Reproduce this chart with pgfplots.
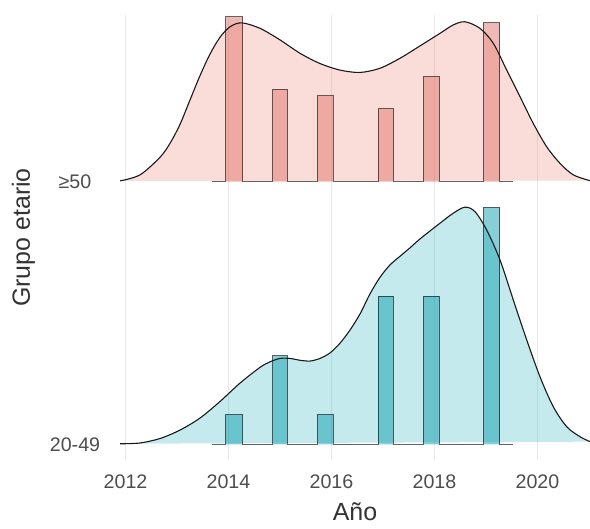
\documentclass[border=0pt]{standalone}
\usepackage{fontspec}
\setmainfont{Liberation Sans}
\usepackage{pgfplots}
\pgfplotsset{compat=1.18}
\usepackage{pgfplotstable}

\definecolor{redc}{RGB}{235,118,100}
\definecolor{redbar}{RGB}{224,118,109}
\definecolor{bluec}{RGB}{20,170,185}
\definecolor{bluebar}{RGB}{16,159,176}
\definecolor{tickgray}{RGB}{77,77,77}
\definecolor{gridgray}{RGB}{232,232,232}

% density of the >=50 group (height above its baseline)
\pgfplotstableread{
x h
2011.893 0.003
2012.282 0.026
2012.670 0.093
2012.864 0.146
2013.058 0.218
2013.252 0.311
2013.447 0.404
2013.641 0.486
2013.835 0.550
2014.029 0.590
2014.256 0.605
2014.612 0.584
2015.000 0.540
2015.388 0.489
2015.777 0.450
2016.165 0.425
2016.553 0.416
2016.942 0.432
2017.330 0.470
2017.718 0.517
2018.107 0.565
2018.365 0.597
2018.592 0.609
2018.883 0.584
2019.142 0.527
2019.402 0.425
2019.660 0.324
2019.918 0.222
2020.179 0.133
2020.437 0.070
2020.695 0.026
2021.020 0.004
}\densOld

% density of the 20-49 group
\pgfplotstableread{
x h
2011.893 0.002
2012.282 0.005
2012.670 0.022
2013.058 0.054
2013.447 0.100
2013.835 0.163
2014.223 0.233
2014.612 0.293
2014.806 0.314
2015.000 0.327
2015.194 0.327
2015.388 0.320
2015.583 0.317
2015.777 0.327
2015.971 0.348
2016.165 0.385
2016.359 0.435
2016.553 0.496
2016.748 0.573
2016.942 0.636
2017.136 0.683
2017.330 0.716
2017.524 0.748
2017.718 0.782
2018.107 0.842
2018.365 0.880
2018.592 0.903
2018.786 0.886
2019.014 0.816
2019.272 0.702
2019.530 0.550
2019.790 0.398
2020.049 0.257
2020.307 0.143
2020.567 0.067
2020.825 0.029
2021.020 0.010
}\densYoung

% histogram outline of the >=50 group
\pgfplotstableread{
x h
2013.685 0
2013.946 0
2013.946 0.628
2014.276 0.628
2014.276 0
2014.858 0
2014.858 0.352
2015.142 0.352
2015.142 0
2015.724 0
2015.724 0.327
2016.030 0.327
2016.030 0
2016.905 0
2016.905 0.277
2017.204 0.277
2017.204 0
2017.783 0
2017.783 0.400
2018.093 0.400
2018.093 0
2018.947 0
2018.947 0.605
2019.272 0.605
2019.272 0
2019.518 0
}\histOld

% histogram outline of the 20-49 group
\pgfplotstableread{
x h
2013.685 0
2013.946 0
2013.946 0.113
2014.276 0.113
2014.276 0
2014.858 0
2014.858 0.338
2015.142 0.338
2015.142 0
2015.724 0
2015.724 0.113
2016.030 0.113
2016.030 0
2016.905 0
2016.905 0.564
2017.204 0.564
2017.204 0
2017.783 0
2017.783 0.564
2018.093 0.564
2018.093 0
2018.947 0
2018.947 0.902
2019.272 0.902
2019.272 0
2019.518 0
}\histYoung

\begin{document}
\begin{tikzpicture}
\path[use as bounding box] (0,0) rectangle (590bp,529bp);
\begin{axis}[
  at={(120bp,69bp)}, anchor=south west,
  width=470bp, height=445bp, scale only axis,
  xmin=2011.893, xmax=2021.02, ymin=-0.0598, ymax=1.6348,
  axis line style={draw=none}, tick style={draw=none},
  xtick={2012,2014,2016,2018,2020},
  xticklabels={2012,2014,2016,2018,2020},
  ytick={0,1}, yticklabels={20-49,≥50},
  xmajorgrids, grid style={gridgray, line width=0.9bp},
  xticklabel style={anchor=center, yshift=-22bp, font=\fontsize{19.7}{23}\selectfont, text=tickgray},
  yticklabel style={anchor=center, xshift=-45bp, font=\fontsize{19.7}{23}\selectfont, text=tickgray},
  xlabel={Año}, ylabel={Grupo etario},
  xlabel style={at={(axis description cs:0.5,-0.1169)}, anchor=center, font=\fontsize{25}{30}\selectfont, text=black!80},
  ylabel style={at={(axis description cs:-0.2053,0.5)}, anchor=center, font=\fontsize{25}{30}\selectfont, text=black!80},
  no markers,
]
% >=50 group
\addplot[draw=none, fill=redc, fill opacity=0.25, smooth] table[x=x, y expr=\thisrow{h}+1] {\densOld};
\addplot[fill=redbar, fill opacity=0.5, draw=black, draw opacity=0.6, line width=1bp] table[x=x, y expr=\thisrow{h}+1] {\histOld};
\addplot[black!90, line width=1.1bp, smooth] table[x=x, y expr=\thisrow{h}+1] {\densOld};
% 20-49 group
\addplot[draw=none, fill=bluec, fill opacity=0.25, smooth] table[x=x, y=h] {\densYoung};
\addplot[fill=bluebar, fill opacity=0.5, draw=black, draw opacity=0.6, line width=1bp] table[x=x, y=h] {\histYoung};
\addplot[black!90, line width=1.1bp, smooth] table[x=x, y=h] {\densYoung};
\end{axis}
\end{tikzpicture}
\end{document}
